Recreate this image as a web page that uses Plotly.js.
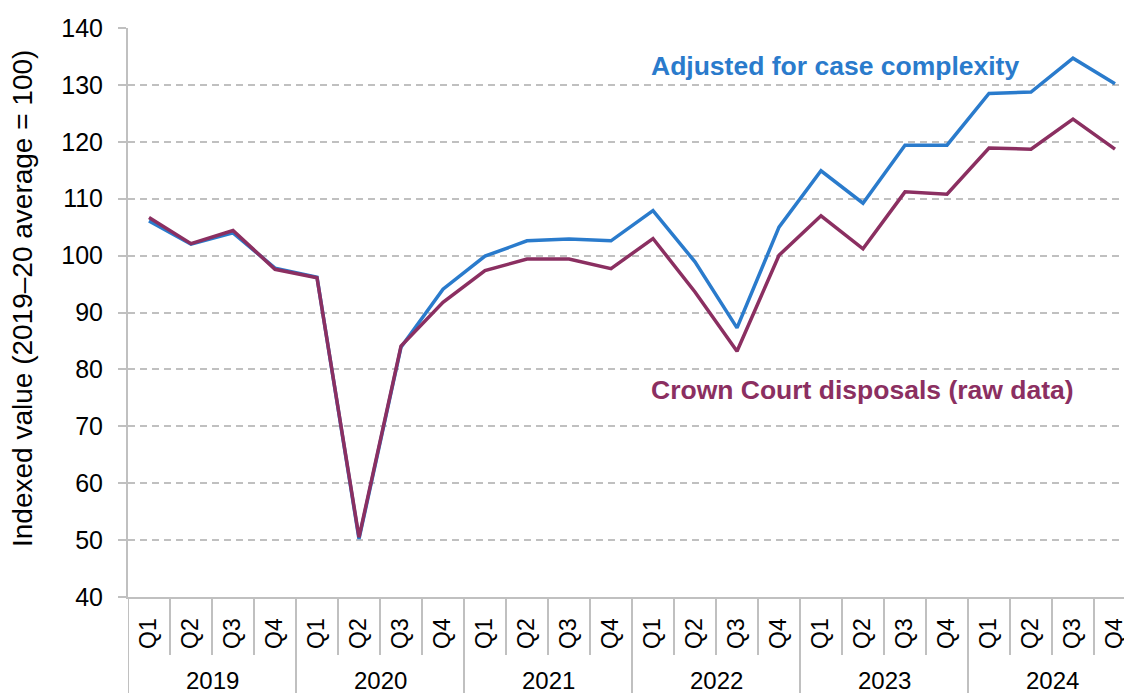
<!DOCTYPE html>
<html>
<head>
<meta charset="utf-8">
<script src="https://cdn.plot.ly/plotly-3.0.1.min.js"></script>
<style>
html,body{margin:0;padding:0;background:#fff;}
#chart{width:1124px;height:693px;}
</style>
</head>
<body>
<div id="chart"></div>
<script>
// Data
const years = ["2019", "2020", "2021", "2022", "2023", "2024"];
const quarters = ["Q1", "Q2", "Q3", "Q4"];
const adjusted = [106.1, 102.0, 104.0, 97.8, 96.2, 50.2, 83.9, 94.1, 99.9, 102.6, 102.9, 102.6,
                  107.9, 98.9, 87.3, 105.0, 114.9, 109.2, 119.4, 119.4, 128.5, 128.75, 134.7, 130.2];
const raw = [106.7, 102.1, 104.4, 97.6, 96.1, 50.5, 84.1, 91.8, 97.35, 99.4, 99.4, 97.7,
             103.0, 93.6, 83.2, 100.05, 107.0, 101.2, 111.2, 110.8, 118.9, 118.7, 124.0, 118.7];
const seriesNames = ["Adjusted for case complexity", "Crown Court disposals (raw data)"];
const yTitle = "Indexed value (2019\u201320 average = 100)";

const blue = "#2a7bcc";
const maroon = "#8b2f61";
const grey = "#c0c0c0";
const FONT = "Liberation Sans, Arial, sans-serif";

const labels = [];
const idx = [];
years.forEach((y, yi) => quarters.forEach((q, qi) => { labels.push(q); idx.push(yi * 4 + qi); }));

const traces = [
  {x: idx, y: adjusted, type: "scatter", mode: "lines", name: seriesNames[0],
   line: {color: blue, width: 3.5}, hoverinfo: "y"},
  {x: idx, y: raw, type: "scatter", mode: "lines", name: seriesNames[1],
   line: {color: maroon, width: 3.5}, hoverinfo: "y"}
];

const L = 128, T = 28, B = 96, W = 1124, H = 693;
const plotH = H - T - B;
const catW = 42;
const xMax = -0.5 + (W - L) / catW;

const shapes = [];
// separators below the axis
for (let i = 0; i <= idx.length; i++) {
  const isYear = (i % 4 === 0);
  shapes.push({type: "line", xref: "x", yref: "paper",
    x0: i - 0.5, x1: i - 0.5, y0: 0, y1: isYear ? -(B + 2) / plotH : -(655 - (T + plotH)) / plotH,
    line: {color: grey, width: 2}, layer: "below"});
}
const annotations = [];
years.forEach((y, yi) => {
  annotations.push({xref: "x", yref: "paper", x: yi * 4 + 1.5, y: -(680 - (T + plotH)) / plotH,
    text: y, showarrow: false, xanchor: "center", yanchor: "middle",
    font: {family: FONT, size: 24, color: "#000"}});
});
annotations.push({xref: "x", yref: "y", x: 11.9, y: 133.3, text: "<b>" + seriesNames[0] + "</b>",
  showarrow: false, xanchor: "left", yanchor: "middle", font: {family: FONT, size: 26.5, color: blue}});
annotations.push({xref: "x", yref: "y", x: 11.9, y: 76.4, text: "<b>" + seriesNames[1] + "</b>",
  showarrow: false, xanchor: "left", yanchor: "middle", font: {family: FONT, size: 26.5, color: maroon}});
// y-axis title
annotations.push({xref: "paper", yref: "paper", x: (22 - L) / (W - L), y: (T + plotH - 299) / plotH,
  text: yTitle, textangle: -90, showarrow: false, xanchor: "center", yanchor: "middle",
  font: {family: FONT, size: 28, color: "#000"}});

const layout = {
  width: W, height: H,
  margin: {l: L, r: 0, t: T, b: B, pad: 0},
  paper_bgcolor: "#fff", plot_bgcolor: "#fff",
  showlegend: false,
  font: {family: FONT, size: 25, color: "#000"},
  xaxis: {
    type: "linear", range: [-0.5, xMax], tickmode: "array", tickvals: idx, ticktext: labels,
    tickangle: -90, ticks: "", showgrid: false, zeroline: false,
    showline: true, linecolor: grey, linewidth: 2, ticklabeloverflow: "allow",
    ticklabelstandoff: 10, tickfont: {family: FONT, size: 23, color: "#000"}
  },
  yaxis: {
    range: [40, 140], dtick: 10, tick0: 40, ticks: "outside", ticklen: 8, tickwidth: 2, tickcolor: grey,
    showgrid: true, gridcolor: grey, gridwidth: 2, griddash: "7px,5px", zeroline: false,
    showline: true, linecolor: grey, linewidth: 2,
    tickfont: {family: FONT, size: 25, color: "#000"}, ticklabelstandoff: 10
  },
  shapes: shapes,
  annotations: annotations
};

Plotly.newPlot("chart", traces, layout, {displayModeBar: false, staticPlot: true});
</script>
</body>
</html>
